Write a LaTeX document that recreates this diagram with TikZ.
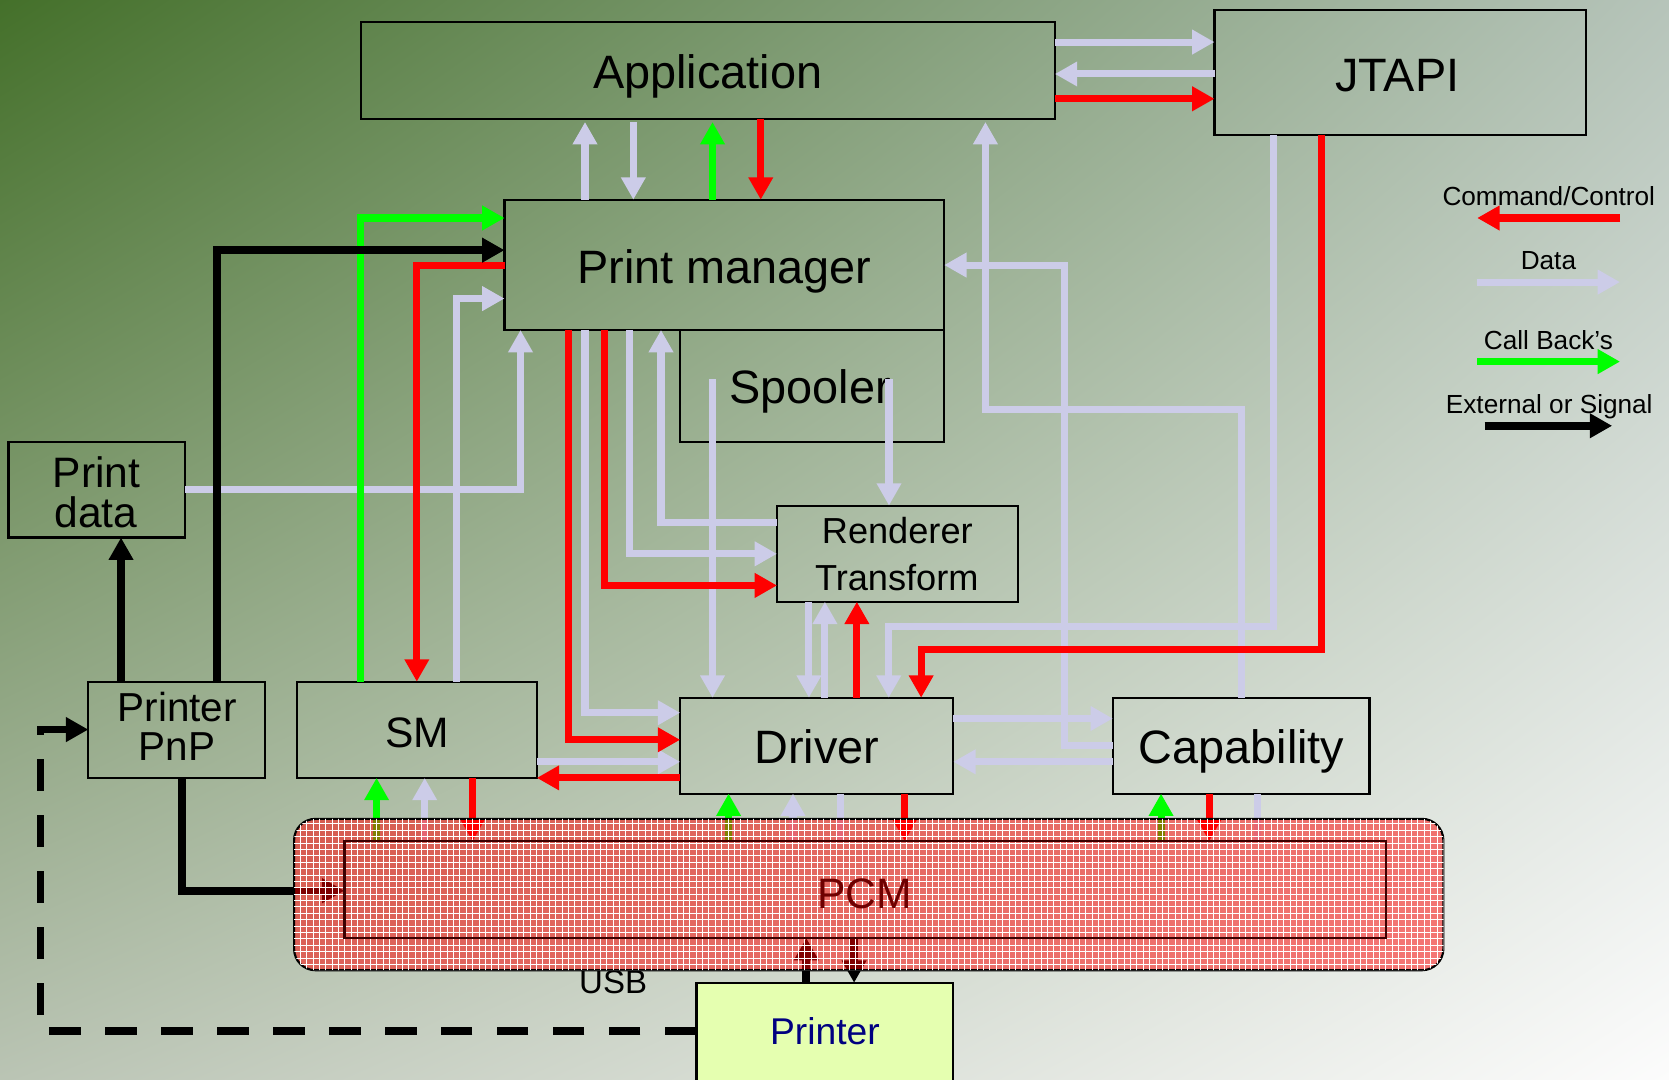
\documentclass[tikz,border=0pt]{standalone}
\usepackage{fontspec}
\setmainfont{Liberation Sans}
\usetikzlibrary{arrows.meta,shadings,patterns}
\definecolor{dataC}{RGB}{204,204,232}
\definecolor{cbC}{RGB}{0,255,0}
\definecolor{bgTL}{RGB}{68,112,42}
\definecolor{bgTR}{RGB}{182,196,186}
\definecolor{bgBL}{RGB}{186,196,180}
\definecolor{bgBR}{RGB}{252,252,252}
\definecolor{prnFill}{RGB}{229,255,176}
\definecolor{navyT}{RGB}{0,0,128}
\definecolor{pcmText}{RGB}{110,0,0}
\definecolor{pcmLine}{RGB}{60,0,0}
\pgfdeclarelayer{front}
\pgfsetlayers{main,front}
\begin{document}
\begin{tikzpicture}[x=0.5pt,y=-0.5pt,
  box/.style={draw=black,line width=1pt,inner sep=0pt,outer sep=0pt},
  tA/.style={font=\fontsize{22}{26}\selectfont,inner sep=0pt,anchor=base},
  tR/.style={font=\fontsize{17}{20}\selectfont,inner sep=0pt,anchor=base},
  tPD/.style={font=\fontsize{20}{24}\selectfont,inner sep=0pt,anchor=base},
  tPP/.style={font=\fontsize{19}{22}\selectfont,inner sep=0pt,anchor=base},
  tSM/.style={font=\fontsize{20}{24}\selectfont,inner sep=0pt,anchor=base},
  tLeg/.style={font=\fontsize{12.3}{14}\selectfont,inner sep=0pt,anchor=base},
  conn/.style={line width=3.3pt,-{Triangle[length=10.5pt,width=11pt]}},
  dataA/.style={conn,draw=dataC},
  dataL/.style={line width=3.3pt,draw=dataC},
  ctrlA/.style={conn,draw=red},
  cbA/.style={conn,draw=cbC},
  extA/.style={conn,draw=black,line width=3.6pt},
  pcmbox/.style={draw=black,line width=1pt,inner sep=0pt,outer sep=0pt,
     fill=red,fill opacity=0.5,rounded corners=10pt,
     postaction={pattern=grid,pattern color=white,fill opacity=0.12}}
]
\useasboundingbox (0,0) rectangle (1568,1014);
\shade[upper left=bgTL, upper right=bgTR, lower left=bgBL, lower right=bgBR] (0,0) rectangle (1568,1014);

% PCM (front layer)
\begin{pgfonlayer}{front}
\node[pcmbox, minimum width=539.85pt, minimum height=71.1pt] (pcm) at (816.15,840.4) {};
\node[box, draw=pcmLine, minimum width=489.05pt, minimum height=45.4pt] (pcmin) at (812.65,835.8) {};
\node[tSM, text=pcmText] (pcmT) at (812.5,853.2) {PCM};
\end{pgfonlayer}

% boxes
\node[box, minimum width=326pt, minimum height=45.3pt] (app) at (665,66.3) {};
\node[box, minimum width=174.5pt, minimum height=58.9pt] (jtapi) at (1315.5,67.9) {};
\node[box, minimum width=206.5pt, minimum height=61.2pt] (pm) at (680.5,248.8) {};
\node[box, minimum width=124pt, minimum height=52.5pt] (spool) at (763,362.5) {};
\node[box, minimum width=113pt, minimum height=45.15pt] (rend) at (843,520.15) {};
\node[box, minimum width=82.8pt, minimum height=45pt] (pdata) at (90.8,460) {};
\node[box, minimum width=83pt, minimum height=45.2pt] (pnp) at (166,685.6) {};
\node[box, minimum width=112.75pt, minimum height=45.2pt] (sm) at (391.55,685.6) {};
\node[box, minimum width=128.3pt, minimum height=45.05pt] (drv) at (767.3,700.55) {};
\node[box, minimum width=120.55pt, minimum height=45.05pt] (cap) at (1166.05,700.55) {};
\node[box, fill=prnFill, minimum width=120.65pt, minimum height=47.35pt] (prn) at (774.95,970.65) {};

% texts
\node[tA] (appT) at (665,83.5) {Application};
\node[tA] (jtT) at (1312.7,85.7) {JTAPI};
\node[tA] (pmT) at (680.5,266) {Print manager};
\node[tA] (spT) at (761,379.5) {Spooler};
\node[tR] (rdT1) at (843,511) {Renderer};
\node[tR] (rdT2) at (842.5,554.5) {Transform};
\node[tPD] (pdT1) at (90.8,458) {Print};
\node[tPD] (pdT2) at (90,496) {data};
\node[tPP] (ppT1) at (166.6,677.5) {Printer};
\node[tPP] (ppT2) at (166.1,714.5) {PnP};
\node[tSM] (smT) at (392,702.5) {SM};
\node[tA] (drT) at (767.5,717.7) {Driver};
\node[tA] (cpT) at (1166.4,717.7) {Capability};
\node[font=\fontsize{17.5}{20}\selectfont,inner sep=0pt,anchor=base,text=navyT] (prT) at (775,980.9) {Printer};
\node[font=\fontsize{15.5}{18}\selectfont,inner sep=0pt,anchor=base] (usbT) at (576,933.8) {USB};

% legend
\node[tLeg] (lgT1) at (1455,193.5) {Command/Control};
\node[tLeg] (lgT2) at (1454.7,253) {Data};
\node[tLeg] (lgT3) at (1454.7,328) {Call Back's};
\node[tLeg] (lgT4) at (1455.5,388) {External or Signal};
\coordinate (lg1a) at (1522,204.8); \coordinate (lg1b) at (1387.8,204.8);
\coordinate (lg2a) at (1387.8,265); \coordinate (lg2b) at (1522,265);
\coordinate (lg3a) at (1387.8,339.7); \coordinate (lg3b) at (1522,339.7);
\coordinate (lg4a) at (1394.8,400); \coordinate (lg4b) at (1514.6,400);
\draw[ctrlA] (lg1a) -- (lg1b);
\draw[dataA] (lg2a) -- (lg2b);
\draw[cbA] (lg3a) -- (lg3b);
\draw[extA] (lg4a) -- (lg4b);

% ---------- data connectors ----------
\draw[dataA] (app.east |- 0,39.5) -- (jtapi.west |- 0,39.5);
\draw[dataA] (jtapi.west |- 0,69.5) -- (app.east |- 0,69.5);
\draw[dataA,shorten >=1.5pt] (pm.north -| 549.6,0) -- (app.south -| 549.6,0);
\draw[dataA,shorten <=1.5pt] (app.south -| 595,0) -- (pm.north -| 595,0);
\draw[dataA] (pdata.east |- 0,460) -| (pm.south -| 489,0);
\draw[dataA] (sm.north -| 429,0) |- (pm.west |- 0,280.5);
\draw[dataA] (pm.south -| 549.6,0) |- (drv.west |- 0,669.6);
\draw[dataA] (pm.south -| 591,0) |- (rend.west |- 0,520.3);
\draw[dataA] (rend.west |- 0,490.8) -| (pm.south -| 621,0);
\coordinate (spA) at (669.4,356);
\coordinate (spB) at (835.2,356);
\draw[dataA] (spA) -- (drv.north -| spA);
\draw[dataA] (spB) -- (rend.north -| spB);
\draw[dataA] (rend.south -| 760,0) -- (drv.north -| 760,0);
\draw[dataA] (drv.north -| 775,0) -- (rend.south -| 775,0);
\draw[dataA] (jtapi.south -| 1196,0) -- (1196,589) -- (835,589) -- (drv.north -| 835,0);
\draw[dataA,shorten >=1.5pt] (cap.north -| 1166.3,0) -- (1166.3,385) -- (925.8,385) -- (app.south -| 925.8,0);
\draw[dataA] (cap.west |- 0,700) -- (1000.3,700) -- (1000.3,249) -- (pm.east |- 0,249);
\draw[dataA] (drv.east |- 0,675) -- (cap.west |- 0,675);
\draw[dataA] (cap.west |- 0,715.7) -- (drv.east |- 0,715.7);
\draw[dataA] (sm.east |- 0,715.7) -- (drv.west |- 0,715.7);
\draw[dataA] (pcmin.north -| 399,0) -- (sm.south -| 399,0);
\draw[dataA] (pcmin.north -| 745,0) -- (drv.south -| 745,0);
\draw[dataL] (drv.south -| 790,0) -- (pcmin.north -| 790,0);
\draw[dataL] (cap.south -| 1181.5,0) -- (pcmin.north -| 1181.5,0);

% ---------- command / control ----------
\draw[ctrlA] (app.east |- 0,92.8) -- (jtapi.west |- 0,92.8);
\draw[ctrlA] (app.south -| 714.7,0) -- (pm.north -| 714.7,0);
\draw[ctrlA] (pm.west |- 0,249) -| (sm.north -| 391.6,0);
\draw[ctrlA] (pm.south -| 534.5,0) |- (drv.west |- 0,695);
\draw[ctrlA] (pm.south -| 568,0) |- (rend.west |- 0,550);
\draw[ctrlA] (drv.north -| 805,0) -- (rend.south -| 805,0);
\draw[ctrlA] (jtapi.south -| 1241.3,0) -- (1241.3,610.4) -- (865.4,610.4) -- (drv.north -| 865.4,0);
\draw[ctrlA] (drv.west |- 0,730.8) -- (sm.east |- 0,730.8);
\draw[ctrlA] (sm.south -| 444,0) -- (pcmin.north -| 444,0);
\draw[ctrlA] (drv.south -| 850,0) -- (pcmin.north -| 850,0);
\draw[ctrlA] (cap.south -| 1136,0) -- (pcmin.north -| 1136,0);

% ---------- call backs ----------
\draw[cbA,shorten >=1.5pt] (pm.north -| 669.4,0) -- (app.south -| 669.4,0);
\draw[cbA] (sm.north -| 338.7,0) |- (pm.west |- 0,204.8);
\draw[cbA] (pcmin.north -| 353.8,0) -- (sm.south -| 353.8,0);
\draw[cbA] (pcmin.north -| 684.5,0) -- (drv.south -| 684.5,0);
\draw[cbA] (pcmin.north -| 1090.8,0) -- (cap.south -| 1090.8,0);

% ---------- external / signal ----------
\draw[extA] (pnp.north -| 203.8,0) |- (pm.west |- 0,235);
\draw[extA] (pnp.north -| 113.7,0) -- (pdata.south -| 113.7,0);
\draw[extA] (pnp.south -| 171,0) |- (pcmin.west |- 0,836.8);
\draw[extA,dash pattern=on 14.8pt off 11.5pt] (prn.west |- 0,968.4) -- (38,968.4) -- (38,685.4) -- (pnp.west |- 0,685.4);
\draw[extA] (prn.north -| 757.5,0) -- (pcmin.south -| 757.5,0);
\draw[extA] (pcmin.south -| 802.4,0) -- (prn.north -| 802.4,0);
\end{tikzpicture}
\end{document}
